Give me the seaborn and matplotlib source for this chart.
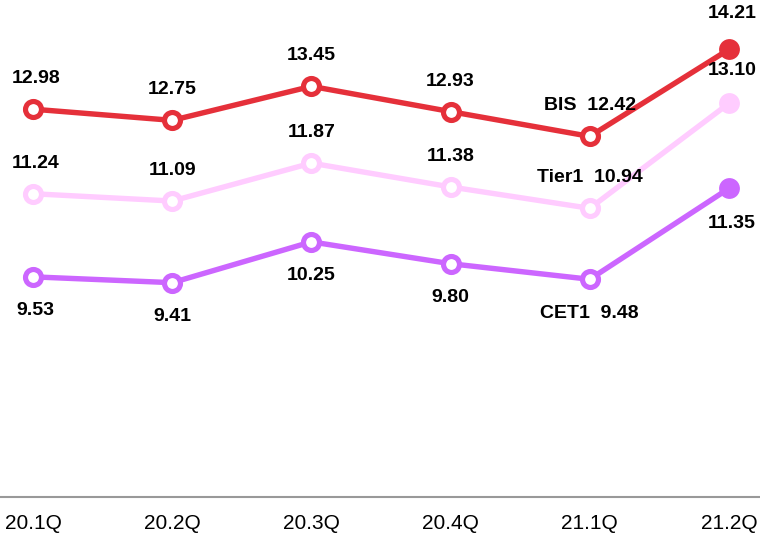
import matplotlib
matplotlib.use("Agg")
import matplotlib.pyplot as plt
import seaborn as sns
import pandas as pd

quarters = ["20.1Q", "20.2Q", "20.3Q", "20.4Q", "21.1Q", "21.2Q"]
bis = [12.98, 12.75, 13.45, 12.93, 12.42, 14.21]
tier1 = [11.24, 11.09, 11.87, 11.38, 10.94, 13.10]
cet1 = [9.53, 9.41, 10.25, 9.80, 9.48, 11.35]

series_names = ["BIS", "Tier1", "CET1"]
colors = {"BIS": "#E5303A", "Tier1": "#FFCCFF", "CET1": "#CC66FF"}

df = pd.concat([
    pd.DataFrame({"quarter": quarters, "idx": range(len(quarters)), "ratio": vals, "series": name})
    for name, vals in zip(series_names, [bis, tier1, cet1])
], ignore_index=True)

sns.set_style("white")
plt.rcParams["font.family"] = ["Liberation Sans", "DejaVu Sans"]

fig = plt.figure(figsize=(7.6, 5.35), dpi=100)
ax = fig.add_axes([0, 38 / 535, 1, 497 / 535])

sns.lineplot(data=df, x="idx", y="ratio", hue="series", palette=colors,
             linewidth=3.9, legend=False, ax=ax, zorder=2)

# hollow markers on history, filled marker on the latest quarter
for name in series_names:
    sub = df[df["series"] == name]
    c = colors[name]
    ax.plot(sub["idx"].iloc[:-1], sub["ratio"].iloc[:-1], "o", ms=11.5, mew=3.7,
            mec=c, mfc="white", zorder=3, clip_on=False)
    ax.plot(sub["idx"].iloc[-1:], sub["ratio"].iloc[-1:], "o", ms=15, mew=0,
            mfc=c, zorder=3, clip_on=False)

# value labels
offsets = {"BIS": 22, "Tier1": 22, "CET1": -24.5}
last_offsets = {"BIS": 26, "Tier1": 24, "CET1": -25.5}
n = len(quarters)
for name in series_names:
    sub = df[df["series"] == name].reset_index(drop=True)
    for i, row in sub.iterrows():
        text = f"{row['ratio']:.2f}"
        if i == n - 2:
            text = f"{name}  {text}"
        dy = last_offsets[name] if i == n - 1 else offsets[name]
        dx = 2 if i == 0 else (2 if i == n - 1 else 0)
        ax.annotate(text, (row["idx"], row["ratio"]), xytext=(dx, dy),
                    textcoords="offset points", ha="center", va="center",
                    fontsize=14, fontweight="bold", color="black",
                    annotation_clip=False)

ax.set_xlim(-0.237, 5.223)
ax.set_ylim(5.0, 5.0 + 497 / 48.6)
ax.set_xticks(range(n))
ax.set_xticklabels(quarters, fontsize=15, color="black")
ax.tick_params(axis="x", length=0, pad=12)
ax.set_yticks([])
ax.set_xlabel("")
ax.set_ylabel("")
for side in ["top", "left", "right"]:
    ax.spines[side].set_visible(False)
ax.spines["bottom"].set_color("#999999")
ax.spines["bottom"].set_linewidth(1.5)

fig.savefig("out.png", dpi=100)
